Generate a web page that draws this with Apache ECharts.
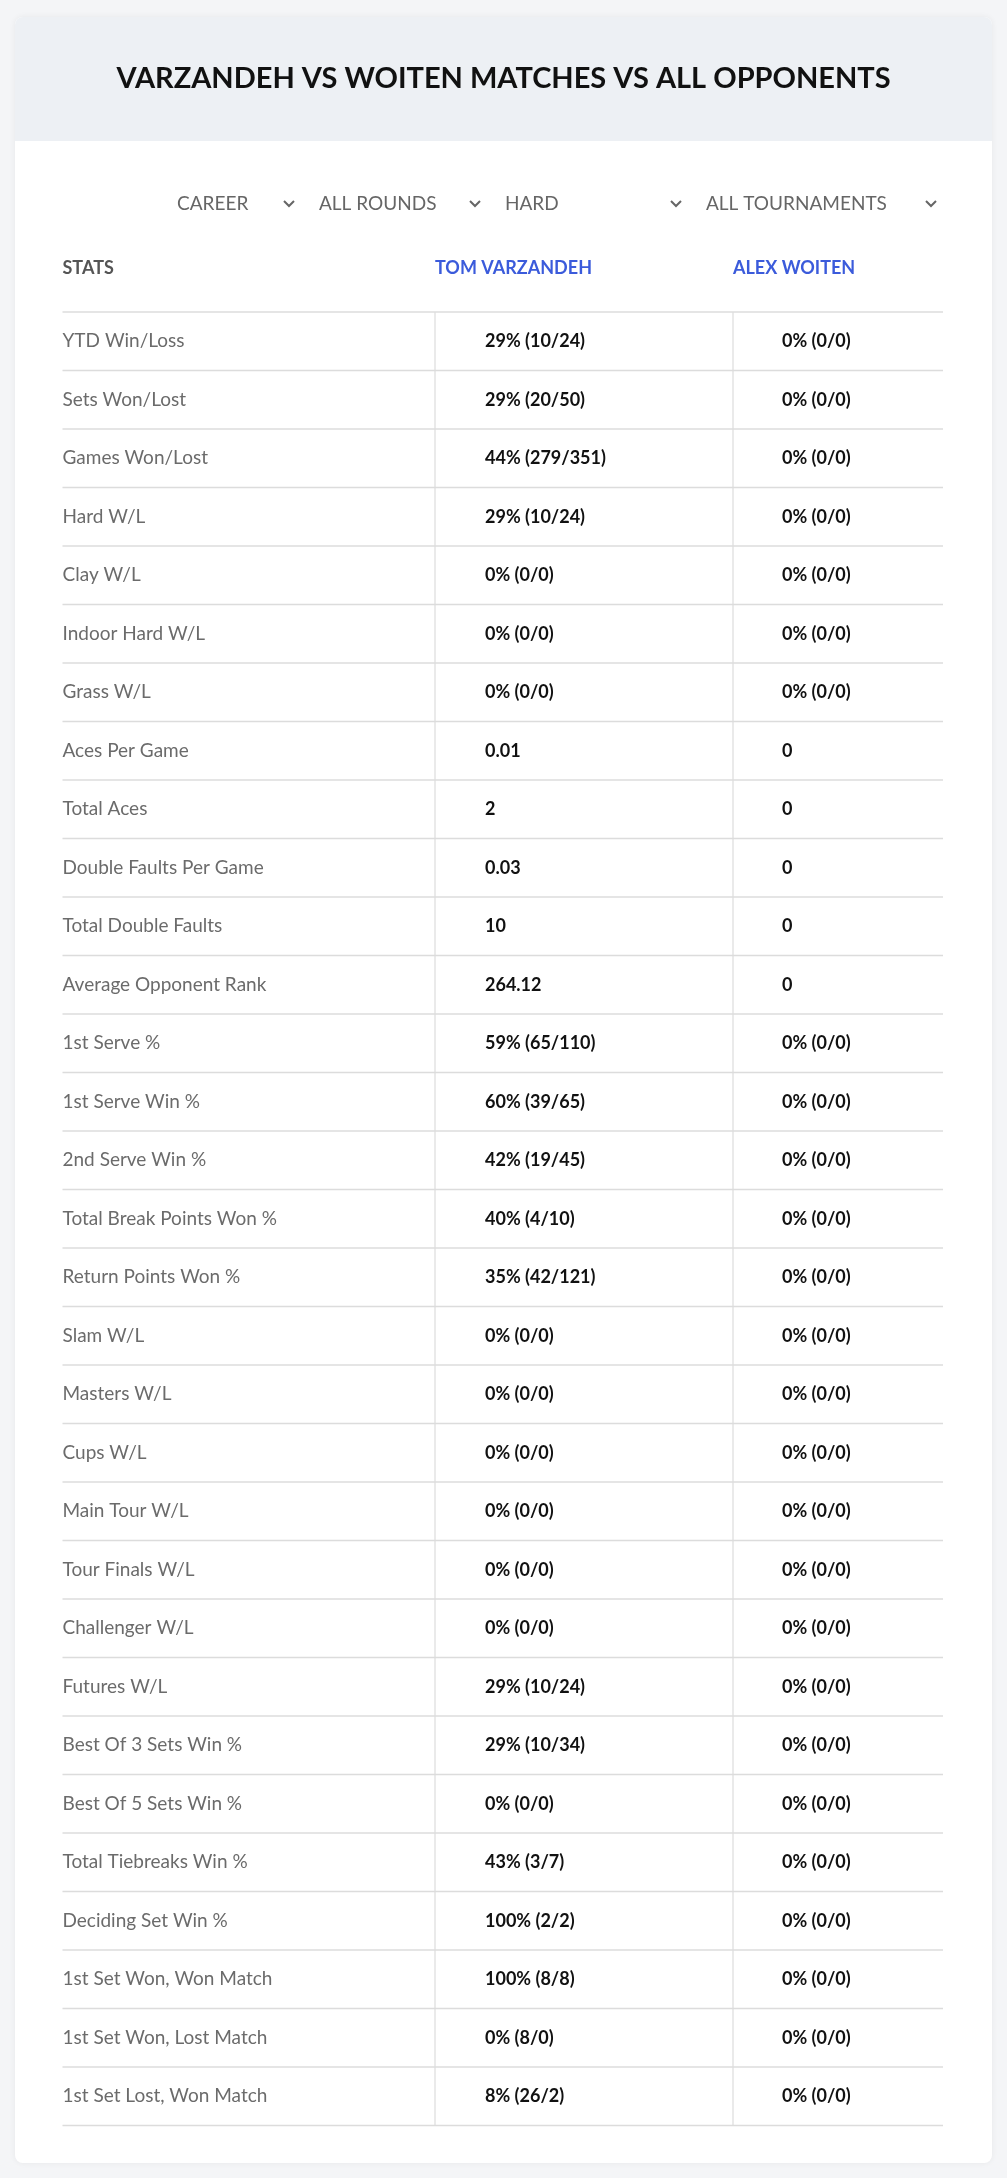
<!DOCTYPE html>
<html><head><meta charset="utf-8">
<script src="https://cdn.jsdelivr.net/npm/echarts@6/dist/echarts.min.js"></script>
<style>html,body{margin:0;padding:0;background:#f4f5f7}#c{width:1007px;height:2178px}</style>
</head><body><div id="c"></div>
<script>
const title = "VARZANDEH VS WOITEN MATCHES VS ALL OPPONENTS";
const filters = ["CAREER","ALL ROUNDS","HARD","ALL TOURNAMENTS"];
const headers = ["STATS","TOM VARZANDEH","ALEX WOITEN"];
const stats = ["YTD Win/Loss","Sets Won/Lost","Games Won/Lost","Hard W/L","Clay W/L","Indoor Hard W/L","Grass W/L","Aces Per Game","Total Aces","Double Faults Per Game","Total Double Faults","Average Opponent Rank","1st Serve %","1st Serve Win %","2nd Serve Win %","Total Break Points Won %","Return Points Won %","Slam W/L","Masters W/L","Cups W/L","Main Tour W/L","Tour Finals W/L","Challenger W/L","Futures W/L","Best Of 3 Sets Win %","Best Of 5 Sets Win %","Total Tiebreaks Win %","Deciding Set Win %","1st Set Won, Won Match","1st Set Won, Lost Match","1st Set Lost, Won Match"];
const player1 = ["29% (10/24)","29% (20/50)","44% (279/351)","29% (10/24)","0% (0/0)","0% (0/0)","0% (0/0)","0.01","2","0.03","10","264.12","59% (65/110)","60% (39/65)","42% (19/45)","40% (4/10)","35% (42/121)","0% (0/0)","0% (0/0)","0% (0/0)","0% (0/0)","0% (0/0)","0% (0/0)","29% (10/24)","29% (10/34)","0% (0/0)","43% (3/7)","100% (2/2)","100% (8/8)","0% (8/0)","8% (26/2)"];
const player2 = ["0% (0/0)","0% (0/0)","0% (0/0)","0% (0/0)","0% (0/0)","0% (0/0)","0% (0/0)","0","0","0","0","0","0% (0/0)","0% (0/0)","0% (0/0)","0% (0/0)","0% (0/0)","0% (0/0)","0% (0/0)","0% (0/0)","0% (0/0)","0% (0/0)","0% (0/0)","0% (0/0)","0% (0/0)","0% (0/0)","0% (0/0)","0% (0/0)","0% (0/0)","0% (0/0)","0% (0/0)"];

const F = 'Lato, "Noto Sans", sans-serif';
const chart = echarts.init(document.getElementById('c'), null, {renderer:'canvas'});
const L = 62.5, R = 943, D1 = 435, D2 = 733;
const filterX = [177,319,505,706], chevX = [289,475,676,931];
const g = [
  {type:'rect',shape:{x:15,y:17,width:977,height:2146,r:8},style:{fill:'#fff',shadowBlur:6,shadowColor:'rgba(0,0,0,0.06)'},z:-10},
  {type:'rect',shape:{x:15,y:17,width:977,height:124,r:[8,8,0,0]},style:{fill:'#edf0f4'},z:-9},
  {type:'text',x:503.5,y:79,style:{text:title,font:'bold 29px '+F,fill:'#111',align:'center',verticalAlign:'middle'}},
  {type:'text',x:L,y:268,style:{text:headers[0],font:'bold 18px '+F,fill:'#555',verticalAlign:'middle'}},
  {type:'text',x:D1,y:268,style:{text:headers[1],font:'bold 18px '+F,fill:'#3b5bdb',verticalAlign:'middle'}},
  {type:'text',x:D2,y:268,style:{text:headers[2],font:'bold 18px '+F,fill:'#3b5bdb',verticalAlign:'middle'}}
];
filters.forEach((f,i)=>{
  g.push({type:'text',x:filterX[i],y:204,style:{text:f,font:'19px '+F,fill:'#666',verticalAlign:'middle'}});
  g.push({type:'polyline',shape:{points:[[chevX[i]-5,201],[chevX[i],206],[chevX[i]+5,201]]},style:{stroke:'#666',lineWidth:2,fill:null}});
});
chart.setOption({
  animation:false,
  grid:{left:L,right:1007-R,top:312,bottom:2178-2125.5},
  xAxis:{type:'value',min:L,max:R,show:false},
  yAxis:{type:'category',data:stats,inverse:true,show:false},
  graphic:g,
  series:[{
    type:'custom',
    data:stats.map((s,i)=>[i]),
    renderItem:(params,api)=>{
      const i = api.value(0);
      const c = api.coord([L,i]);
      const h = api.size([0,1])[1];
      const top = c[1]-h/2, bot = c[1]+h/2;
      const xs = api.coord([D1,i])[0], xs2 = api.coord([D2,i])[0], xr = api.coord([R,i])[0];
      const ch = [
        {type:'line',shape:{x1:c[0],y1:bot,x2:xr,y2:bot},style:{stroke:'#dcdcdc',lineWidth:1.5}},
        {type:'line',shape:{x1:xs,y1:top,x2:xs,y2:bot},style:{stroke:'#dcdcdc',lineWidth:1.2}},
        {type:'line',shape:{x1:xs2,y1:top,x2:xs2,y2:bot},style:{stroke:'#dcdcdc',lineWidth:1.2}},
        {type:'text',x:c[0],y:c[1],style:{text:stats[i],font:'19px '+F,fill:'#6b6b6b',verticalAlign:'middle'}},
        {type:'text',x:xs+50,y:c[1],style:{text:player1[i],font:'bold 18px '+F,fill:'#111',verticalAlign:'middle'}},
        {type:'text',x:xs2+49,y:c[1],style:{text:player2[i],font:'bold 18px '+F,fill:'#111',verticalAlign:'middle'}}
      ];
      if(i===0) ch.push({type:'line',shape:{x1:c[0],y1:top,x2:xr,y2:top},style:{stroke:'#dcdcdc',lineWidth:1.5}});
      return {type:'group',children:ch};
    }
  }]
});
</script></body></html>
